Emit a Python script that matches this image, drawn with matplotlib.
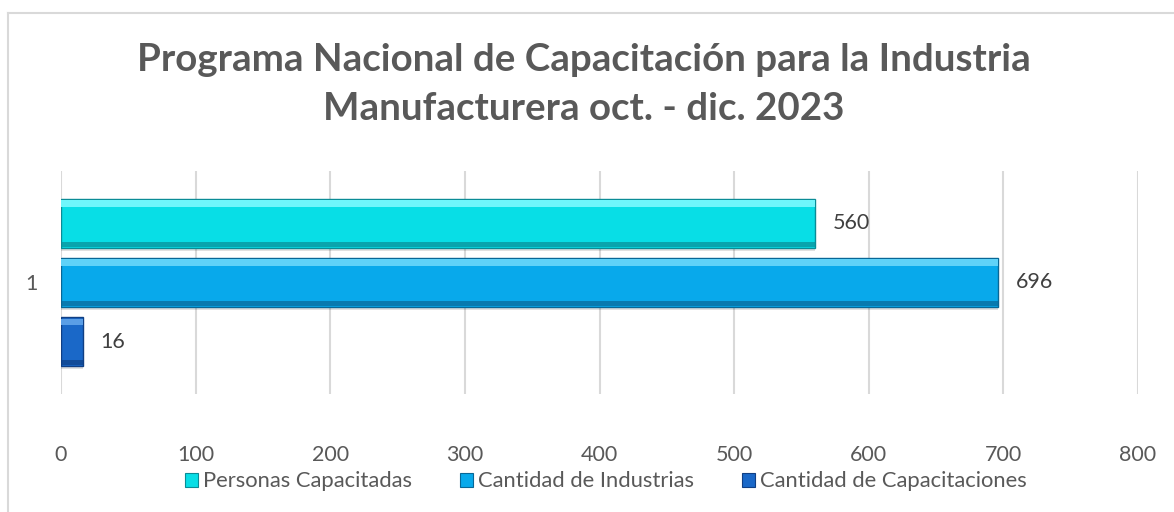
import matplotlib
matplotlib.use("Agg")
import matplotlib.pyplot as plt
from matplotlib.patches import Patch
from matplotlib.lines import Line2D

# datos del gráfico
categorias = ["1"]
series = ["Personas Capacitadas", "Cantidad de Industrias", "Cantidad de Capacitaciones"]
valores = [560, 696, 16]
titulo = "Programa Nacional de Capacitación para la Industria\nManufacturera oct. - dic. 2023"
ticks_x = [0, 100, 200, 300, 400, 500, 600, 700, 800]

# colores (principal, brillo superior, borde oscuro)
colores = ["#08DEE6", "#08A9EB", "#1A68C8"]
brillos = ["#6FF6FB", "#5FD2F8", "#5A9EE6"]
oscuros = ["#0A8C96", "#086796", "#103F84"]

plt.rcParams["font.family"] = ["Lato", "DejaVu Sans"]
gris = "#595959"

fig = plt.figure(figsize=(11.74, 5.12), dpi=100)
ax = fig.add_axes([0.052, 0.2305, 0.9173, 0.4355])

alto = 0.22
paso = 0.265
y0 = 1.0
for i, (v, c, b, o) in enumerate(zip(valores, colores, brillos, oscuros)):
    y = y0 + paso * (1 - i)
    # sombra
    ax.barh(y - 0.012, v, height=alto, left=0, color="#000000", alpha=0.12, zorder=2)
    ax.barh(y, v, height=alto, color=c, edgecolor=o, linewidth=1.0, zorder=3)
    # brillo arriba y borde oscuro abajo (bisel)
    ax.barh(y + alto * 0.40, v, height=alto * 0.14, color=b, linewidth=0, zorder=4)
    ax.barh(y - alto * 0.43, v, height=alto * 0.10, color=o, alpha=0.7, linewidth=0, zorder=4)
    ax.text(v + 13, y, str(v), va="center", ha="left", fontsize=15.5, color="#404040")

ax.set_xlim(0, 800)
ax.set_ylim(0.5, 1.5)
ax.set_xticks(ticks_x)
ax.set_xticklabels([str(t) for t in ticks_x])
ax.set_yticks([y0])
ax.set_yticklabels(categorias)
ax.tick_params(axis="x", length=0, pad=37, labelsize=15.5, labelcolor=gris)
ax.tick_params(axis="y", length=0, pad=16.5, labelsize=15.5, labelcolor=gris)
ax.grid(axis="x", color="#d9d9d9", linewidth=1.5, zorder=0)
ax.set_axisbelow(True)
for s in ax.spines.values():
    s.set_visible(False)

fig.text(0.497, 0.835, titulo, ha="center", va="center", fontsize=27.7,
         fontweight="bold", color=gris, linespacing=1.53)

handles = [Patch(facecolor=c, edgecolor=o, linewidth=0.8) for c, o in zip(colores, oscuros)]
fig.legend(handles, series, loc="center", bbox_to_anchor=(0.516, 0.06), ncol=3,
           frameon=False, fontsize=15.8, labelcolor=gris, handlelength=0.6,
           handleheight=0.6, handletextpad=0.2, columnspacing=2.2)

# borde del área del gráfico
fig.add_artist(Line2D([0.0068, 0.0068], [0.9746, -0.1], color="#d9d9d9", linewidth=1.5))
fig.add_artist(Line2D([0.0068, 1.1], [0.9746, 0.9746], color="#d9d9d9", linewidth=1.5))

fig.savefig("out.png", dpi=100, facecolor="white")
